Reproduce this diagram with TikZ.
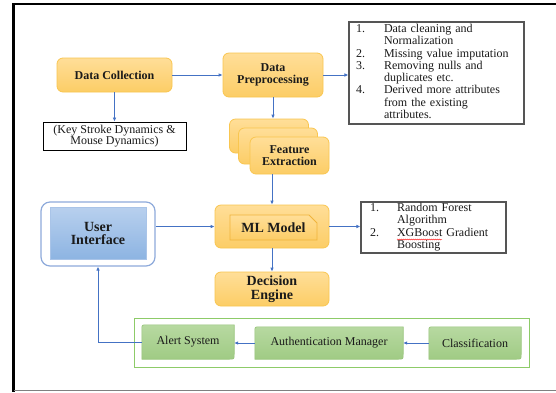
\documentclass[tikz,border=0pt]{standalone}
\usepackage{fontspec}
\setmainfont{Liberation Serif}
\usetikzlibrary{arrows.meta,shapes.misc,backgrounds,decorations.pathmorphing,calc}
\definecolor{arr}{HTML}{4472C4}
\definecolor{orT}{HTML}{FFDE98}
\definecolor{orB}{HTML}{FCCD66}
\definecolor{orD}{HTML}{F9C650}
\definecolor{orE}{HTML}{F0B43C}
\definecolor{uiB}{HTML}{8EAADB}
\definecolor{uiT}{HTML}{B8D0EE}
\definecolor{uiBot}{HTML}{8DB4E2}
\definecolor{uiE}{HTML}{A9C4E8}
\definecolor{grT}{HTML}{B7D9A1}
\definecolor{grB}{HTML}{A0CB84}
\definecolor{grD}{HTML}{97C47A}
\definecolor{grC}{HTML}{8DCB68}
\definecolor{lst}{HTML}{555555}
\definecolor{txt}{HTML}{1A1A1A}
\newcommand\diagshape[1]{\path[gshape] (#1.south west) -- ([yshift=-5pt]#1.north west) .. controls (#1.north west) .. ([xshift=5pt]#1.north west) -- (#1.north east) -- ([yshift=5pt]#1.south east) .. controls (#1.south east) .. ([xshift=-5pt]#1.south east) -- cycle;}
\begin{document}
\begin{tikzpicture}[x=1pt,y=-1pt,
  conn/.style={draw=arr, line width=0.9pt, -{Latex[length=4pt,width=3.6pt]}},
  obox/.style={draw=orD, line width=0.8pt, rounded corners=6pt, top color=orT, bottom color=orB, inner sep=0pt, align=center, text=txt, font=\bfseries\fontsize{12}{11.5}\selectfont},
  bigtext/.style={font=\bfseries\fontsize{14}{13.5}\selectfont},
  listbox/.style={draw=lst, line width=1.1pt, inner ysep=0pt, align=left, text=txt, font=\fontsize{12}{12.3}\selectfont},
  gbox/.style={inner sep=0pt, text=txt, font=\fontsize{12}{12}\selectfont},
  gshape/.style={draw=grD, line width=0.6pt, top color=grT, bottom color=grB},
]
\useasboundingbox (0,0) rectangle (556,392);
\draw[line width=2.2pt, black] (556,4) -- (13.5,4) -- (13.5,392);
\draw[line width=1.6pt, gray] (14,390.5) -- (556,390.5);

% top row
\node[obox, minimum width=115, minimum height=34] (dc) at (114.5,75) {Data Collection};
\node[obox, minimum width=100, minimum height=44] (dp) at (273,75) {Data\\Preprocessing};
\node[listbox, text width=161, inner xsep=7, minimum height=102] (l1) at (436.5,73) {\noindent\begin{tabular}{@{}p{28pt}@{}l@{}}
1. & Data cleaning and\\
   & Normalization\\
2. & Missing value imputation\\
3. & Removing nulls and\\
   & duplicates etc.\\
4. & Derived more attributes\\
   & from the existing\\
   & attributes.
\end{tabular}};
\node[draw=black, line width=0.9pt, minimum width=143, minimum height=28, inner sep=0pt, align=center, text=txt, font=\fontsize{12}{11}\selectfont] (ks) at (114.5,136) {(Key Stroke Dynamics \&\\Mouse Dynamics)};

% feature extraction stack
\node[obox, minimum width=79, minimum height=34] (fe1) at (269,136) {};
\node[obox, minimum width=79, minimum height=36] (fe2) at (278,146) {};
\node[obox, minimum width=79, minimum height=37] (fe3) at (289.5,155.5) {Feature\\Extraction};

% ML model
\node[obox, minimum width=114, minimum height=43] (ml) at (272,226.5) {};
\node[chamfered rectangle, chamfered rectangle corners=north east, chamfered rectangle xsep=4pt, chamfered rectangle ysep=4pt, draw=orE, line width=0.8pt, top color=orT, bottom color=orB, minimum width=87, minimum height=25, inner sep=0pt, text=txt, bigtext] (mli) at (273.5,227.5) {ML Model};
\node[obox, bigtext, minimum width=114, minimum height=34] (de) at (272,289) {Decision\\Engine};

% user interface
\node[draw=uiB, line width=1.2pt, fill=white, rounded corners=9pt, minimum width=114, minimum height=64, inner sep=0pt] (ui) at (98,234) {};
\node[draw=uiE, line width=0.5pt, top color=uiT, bottom color=uiBot, minimum width=96, minimum height=52, inner sep=0pt, align=center, text=txt, font=\bfseries\fontsize{14}{13}\selectfont] (uii) at (98,233) {User\\Interface};

% algorithm list
\node[listbox, text width=127, inner xsep=9, minimum height=51] (l2) at (433.5,227.5) {\noindent\begin{tabular}{@{}p{27pt}@{}l@{}}
1. & Random Forest\\
   & Algorithm\\
2. & XGBoost Gradient\\
   & Boosting
\end{tabular}};
\draw[red, line width=0.4pt, decorate, decoration={snake, amplitude=0.5pt, segment length=2pt}] (397,239.5) -- (442,239.5);

% green row
\node[gbox, minimum width=92, minimum height=34] (al) at (188,342) {Alert System};
\node[gbox, minimum width=148, minimum height=32] (au) at (329,343) {Authentication Manager};
\node[gbox, minimum width=92, minimum height=32] (cl) at (475,343) {Classification};
\begin{scope}[on background layer]
\fill[white] (0,0) rectangle (556,392);
\node[draw=grC, line width=1pt, fill=white, minimum width=395, minimum height=49, inner sep=0pt] (gc) at (331.5,342.5) {};
\diagshape{al}
\diagshape{au}
\diagshape{cl}
\end{scope}

% connectors
\draw[conn] (dc.east) -- (dp.west);
\draw[conn] (dp.east) -- (l1.west |- dp.east);
\draw[conn] (dc.south) -- (ks.north);
\draw[conn] (dp.south) -- (dp.south |- fe1.north);
\draw[conn] (ml.north |- fe3.south) -- (ml.north);
\draw[conn] (ui.east |- ml.west) -- (ml.west);
\draw[conn] (ml.east) -- (ml.east -| l2.west);
\draw[conn] (ml.south) -- (de.north);
\draw[conn] (cl.west) -- (au.east);
\draw[conn] (au.west) -- (au.west -| al.east);
\draw[conn] (al.west) -- (al.west -| ui.south) -- (ui.south);
\end{tikzpicture}
\end{document}
